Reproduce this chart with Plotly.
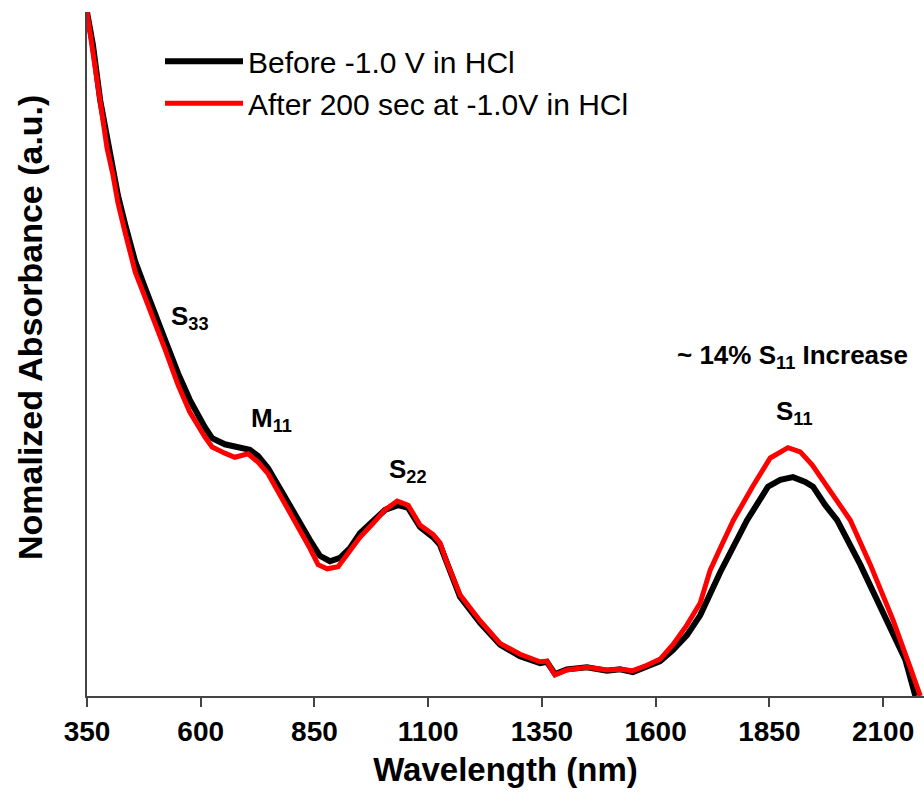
import plotly.graph_objects as go

# Wavelength (nm) and normalized absorbance (a.u.)
before_nm = [350, 363, 379, 394, 407, 418, 434, 456, 478, 500, 522, 550, 576, 609, 625, 653, 686, 708, 726, 748,
             779, 807, 840, 862, 884, 906, 928, 950, 977, 1005, 1034, 1056, 1082, 1111, 1126, 1142, 1170, 1214,
             1258, 1302, 1346, 1361, 1379, 1405, 1449, 1493, 1522, 1550, 1581, 1610, 1638, 1669, 1698, 1742,
             1801, 1847, 1874, 1902, 1929, 1946, 1973, 1999, 2050, 2109, 2149, 2171]
before_abs = [1.000, 0.952, 0.871, 0.813, 0.773, 0.732, 0.689, 0.635, 0.596, 0.560, 0.520, 0.472, 0.433, 0.393,
              0.377, 0.368, 0.363, 0.360, 0.351, 0.333, 0.298, 0.265, 0.228, 0.205, 0.197, 0.202, 0.216, 0.238,
              0.254, 0.272, 0.279, 0.275, 0.247, 0.232, 0.221, 0.192, 0.145, 0.107, 0.075, 0.058, 0.048, 0.050,
              0.032, 0.039, 0.042, 0.037, 0.039, 0.035, 0.044, 0.051, 0.067, 0.089, 0.118, 0.181, 0.257, 0.306,
              0.316, 0.320, 0.313, 0.306, 0.279, 0.257, 0.192, 0.111, 0.053, 0.000]

after_nm = [350, 363, 379, 394, 407, 418, 434, 456, 478, 500, 522, 550, 576, 609, 625, 653, 675, 704, 726, 748,
            779, 807, 840, 858, 878, 902, 928, 950, 977, 1005, 1032, 1056, 1082, 1111, 1126, 1142, 1170, 1214,
            1258, 1302, 1346, 1361, 1379, 1405, 1449, 1493, 1522, 1550, 1581, 1610, 1638, 1669, 1698, 1720,
            1742, 1771, 1813, 1852, 1891, 1918, 1944, 1977, 2028, 2072, 2122, 2160, 2182]
after_abs = [1.000, 0.944, 0.864, 0.801, 0.762, 0.721, 0.677, 0.620, 0.582, 0.545, 0.506, 0.455, 0.415, 0.379,
             0.364, 0.355, 0.349, 0.354, 0.342, 0.325, 0.289, 0.254, 0.216, 0.192, 0.186, 0.189, 0.213, 0.232,
             0.251, 0.272, 0.285, 0.279, 0.250, 0.236, 0.224, 0.194, 0.148, 0.110, 0.077, 0.061, 0.050, 0.051,
             0.031, 0.038, 0.042, 0.038, 0.039, 0.037, 0.045, 0.054, 0.075, 0.104, 0.136, 0.184, 0.216, 0.257,
             0.306, 0.348, 0.363, 0.357, 0.338, 0.306, 0.257, 0.192, 0.111, 0.041, 0.000]

x_ticks = [350, 600, 850, 1100, 1350, 1600, 1850, 2100]

peak_labels = ["<b>S<sub>33</sub></b>", "<b>M<sub>11</sub></b>", "<b>S<sub>22</sub></b>",
               "<b>S<sub>11</sub></b>", "<b>~ 14% S<sub>11</sub> Increase</b>"]
peak_x = [576, 755, 1056, 1905, 1902]
peak_y = [0.553, 0.404, 0.330, 0.414, 0.496]

FONT = "Arial, Liberation Sans, sans-serif"

fig = go.Figure()
fig.add_trace(go.Scatter(x=before_nm, y=before_abs, mode="lines", name="Before -1.0 V in HCl",
                         line=dict(color="black", width=6)))
fig.add_trace(go.Scatter(x=after_nm, y=after_abs, mode="lines", name="After 200 sec at -1.0V in HCl",
                         line=dict(color="#ff0000", width=5)))

for t, xx, yy in zip(peak_labels, peak_x, peak_y):
    fig.add_annotation(x=xx, y=yy, text=t, showarrow=False,
                       font=dict(family=FONT, size=26, color="black"),
                       xanchor="center", yanchor="middle")

# y-axis title placed as a rotated annotation
fig.add_annotation(xref="paper", yref="paper", x=(30 - 87) / 837, y=(696 - 328) / 684,
                   text="<b>Nomalized Absorbance (a.u.)</b>", textangle=-90, showarrow=False,
                   font=dict(family=FONT, size=34, color="black"),
                   xanchor="center", yanchor="middle")

fig.update_layout(
    width=924, height=794,
    margin=dict(l=87, r=0, t=12, b=98),
    paper_bgcolor="white", plot_bgcolor="white",
    font=dict(family=FONT, color="black"),
    showlegend=True,
    legend=dict(x=(160 - 87) / 837, y=0.966, xanchor="left", yanchor="top",
                font=dict(size=30, family=FONT, color="black"),
                bgcolor="rgba(0,0,0,0)", itemwidth=78, tracegroupgap=0),
    xaxis=dict(range=[350, 2190], tickvals=x_ticks, ticktext=[str(v) for v in x_ticks],
               showline=True, linecolor="#444", linewidth=2, ticks="outside", ticklen=9,
               tickwidth=2, tickcolor="#444", showgrid=False, zeroline=False,
               tickfont=dict(size=28, family=FONT, color="black", weight="bold"),
               title=dict(text="<b>Wavelength (nm)</b>", font=dict(size=33), standoff=12)),
    yaxis=dict(range=[0, 1.0], showline=True, linecolor="#444", linewidth=2, showticklabels=False,
               ticks="", showgrid=False, zeroline=False),
)

fig.write_html("out.html")
